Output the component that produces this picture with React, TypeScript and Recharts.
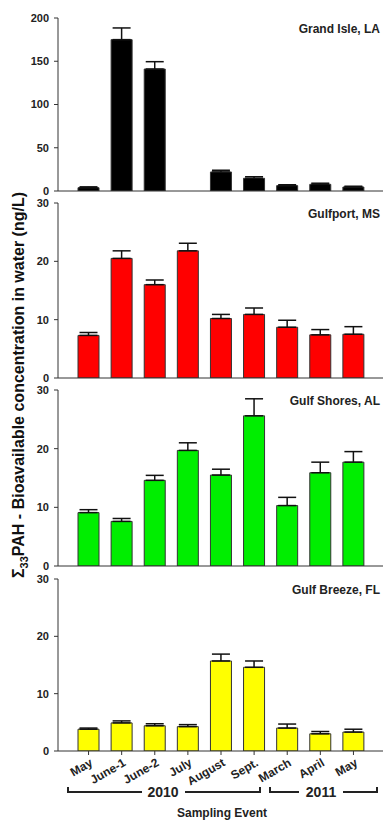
import React from "react";
import { BarChart, Bar, XAxis, YAxis, ErrorBar } from "recharts";

const months = ["May", "June-1", "June-2", "July", "August", "Sept.", "March", "April", "May"];

const grandIsle = [3.8, 175, 141, null, 22, 14.7, 6.2, 7.7, 4.6];
const grandIsleErr = [1, 13.5, 8.5, null, 2, 1.8, 1, 1.3, 0.9];

const gulfport = [7.3, 20.5, 16.0, 21.8, 10.2, 10.9, 8.7, 7.4, 7.5];
const gulfportErr = [0.5, 1.3, 0.8, 1.3, 0.7, 1.1, 1.2, 0.9, 1.3];

const gulfShores = [9.1, 7.6, 14.6, 19.7, 15.5, 25.6, 10.3, 15.9, 17.7];
const gulfShoresErr = [0.5, 0.5, 0.85, 1.3, 1.0, 2.9, 1.4, 1.8, 1.8];

const gulfBreeze = [3.8, 4.9, 4.4, 4.25, 15.7, 14.6, 4.0, 3.0, 3.3];
const gulfBreezeErr = [0.2, 0.35, 0.35, 0.35, 1.2, 1.1, 0.7, 0.4, 0.5];

const FONT = "Arial, 'Liberation Sans', sans-serif";
const AXIS = "#333";

const panels = [
  { title: "Grand Isle, LA", values: grandIsle, errs: grandIsleErr, color: "#000000", max: 200, ticks: [0, 50, 100, 150, 200], top: 18, plotH: 173 },
  { title: "Gulfport, MS", values: gulfport, errs: gulfportErr, color: "#ff0000", max: 30, ticks: [0, 10, 20, 30], top: 203, plotH: 175 },
  { title: "Gulf Shores, AL", values: gulfShores, errs: gulfShoresErr, color: "#00ee00", max: 30, ticks: [0, 10, 20, 30], top: 390, plotH: 176 },
  { title: "Gulf Breeze, FL", values: gulfBreeze, errs: gulfBreezeErr, color: "#ffff00", max: 30, ticks: [0, 10, 20, 30], top: 579, plotH: 172 },
];

const MARGIN_TOP = 6;

const MonthTick = (props: any) => {
  const { x, y, payload } = props;
  const ax = x + 5;
  const ay = y + 8;
  return (
    <text
      x={ax}
      y={ay}
      transform={`rotate(-30, ${ax}, ${ay})`}
      textAnchor="end"
      fill="#222"
      style={{ fontSize: 12, fontWeight: "bold", fontFamily: FONT }}
    >
      {months[payload.index] ?? payload.value}
    </text>
  );
};

const Panel = ({ p, last }: { p: any; last: boolean }) => {
  const data = months.map((m, i) => ({
    key: `${m}-${i}`,
    value: p.values[i],
    err: p.errs[i] == null ? null : [0, p.errs[i]],
  }));
  const xH = last ? 40 : 8;
  const h = MARGIN_TOP + p.plotH + xH;
  return (
    <div style={{ position: "absolute", left: 0, top: p.top - MARGIN_TOP }}>
      <BarChart
        width={383}
        height={h}
        data={data}
        margin={{ top: MARGIN_TOP, right: 0, left: 0, bottom: 0 }}
        barSize={21}
      >
        <XAxis
          xAxisId="top"
          orientation="top"
          dataKey="key"
          height={0}
          tick={false}
          tickLine={false}
          axisLine={{ stroke: "#555", strokeWidth: 1 }}
          padding={{ left: 14, right: 13 }}
        />
        <XAxis
          dataKey="key"
          height={xH}
          interval={0}
          tickSize={4}
          tickLine={{ stroke: AXIS }}
          axisLine={{ stroke: AXIS, strokeWidth: 1 }}
          padding={{ left: 14, right: 13 }}
          tick={last ? <MonthTick /> : false}
        />
        <YAxis
          width={58}
          domain={[0, p.max]}
          ticks={p.ticks}
          interval={0}
          tickSize={4}
          tickMargin={5}
          tickLine={{ stroke: AXIS }}
          axisLine={{ stroke: AXIS, strokeWidth: 1 }}
          tick={{ fill: "#222", fontSize: 11, fontWeight: "bold", fontFamily: FONT }}
          allowDataOverflow
        />
        <Bar dataKey="value" fill={p.color} stroke="#333" strokeWidth={1} isAnimationActive={false}>
          <ErrorBar dataKey="err" width={9} stroke="#111" strokeWidth={1.5} direction="y" />
        </Bar>
      </BarChart>
    </div>
  );
};

const App = () => {
  return (
    <div style={{ position: "absolute", left: 0, top: 0, width: 383, height: 821, background: "#fff", overflow: "hidden" }}>
      {panels.map((p, i) => (
        <Panel key={p.title} p={p} last={i === panels.length - 1} />
      ))}
      <svg width={383} height={821} style={{ position: "absolute", left: 0, top: 0, pointerEvents: "none" }}>
        {panels.map((p) => (
          <text
            key={p.title}
            x={380}
            y={p.top + 15}
            textAnchor="end"
            fill="#222"
            style={{ fontSize: 12, fontWeight: "bold", fontFamily: FONT }}
          >
            {p.title}
          </text>
        ))}
        <text
          x={0}
          y={0}
          transform="translate(24, 385) rotate(-90)"
          textAnchor="middle"
          fill="#111"
          style={{ fontSize: 16, fontWeight: "bold", fontFamily: FONT }}
        >
          Σ<tspan fontSize={11} dy={4}>33</tspan>
          <tspan dy={-4}>PAH - Bioavailable concentration in water (ng/L)</tspan>
        </text>
        <g stroke="#222" strokeWidth={2} fill="none">
          <polyline points="68,787 68,792 142,792" />
          <polyline points="185,792 260,792 260,787" />
          <polyline points="270,787 270,792 299,792" />
          <polyline points="343,792 377,792 377,787" />
        </g>
        <text x={163} y={797} textAnchor="middle" fill="#222" style={{ fontSize: 14, fontWeight: "bold", fontFamily: FONT }}>
          2010
        </text>
        <text x={321} y={797} textAnchor="middle" fill="#222" style={{ fontSize: 14, fontWeight: "bold", fontFamily: FONT }}>
          2011
        </text>
        <text x={222} y={817} textAnchor="middle" fill="#222" style={{ fontSize: 12, fontWeight: "bold", fontFamily: FONT }}>
          Sampling Event
        </text>
      </svg>
    </div>
  );
};

export default App;
